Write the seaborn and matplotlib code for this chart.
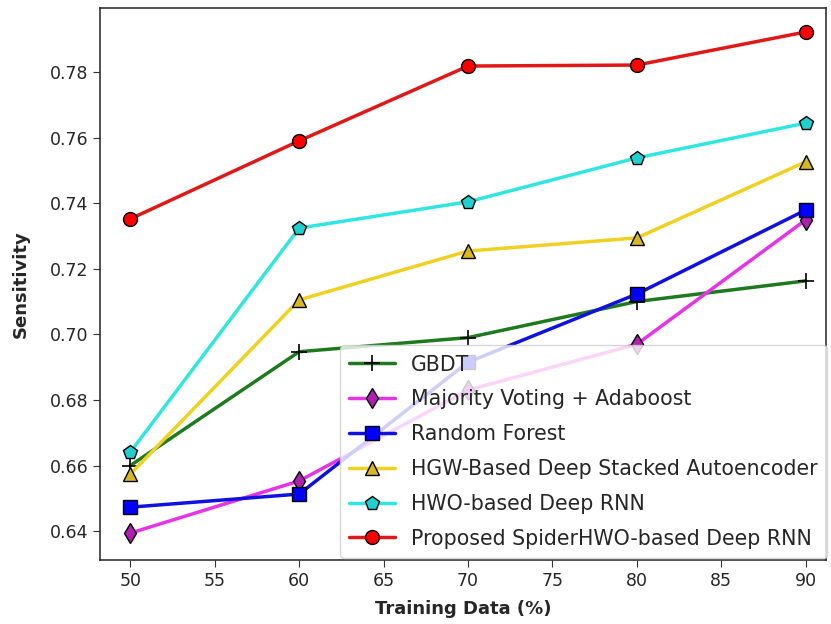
import matplotlib
matplotlib.use("Agg")
import matplotlib.pyplot as plt
import seaborn as sns
import pandas as pd

training = [50, 60, 70, 80, 90]
gbdt = [0.6600, 0.6947, 0.6990, 0.7100, 0.7163]
majority = [0.6394, 0.6553, 0.6830, 0.6970, 0.7349]
random_forest = [0.6473, 0.6513, 0.6915, 0.7123, 0.7379]
hgw = [0.6574, 0.7105, 0.7254, 0.7294, 0.7526]
hwo = [0.6641, 0.7324, 0.7404, 0.7538, 0.7644]
spider = [0.7352, 0.7590, 0.7818, 0.7821, 0.7922]

names = ["GBDT", "Majority Voting + Adaboost", "Random Forest",
         "HGW-Based Deep Stacked Autoencoder", "HWO-based Deep RNN",
         "Proposed SpiderHWO-based Deep RNN"]
series = [gbdt, majority, random_forest, hgw, hwo, spider]
colors = ["#1f7a1f", "#e633e6", "#1010e0", "#f0d020", "#30e6e0", "#e01818"]
face = ["black", "#b020b0", "#0000ff", "#d8b820", "#20d0d0", "#ff0000"]
markers = ["+", "d", "s", "^", "p", "o"]

rows = []
for n, s in zip(names, series):
    for x, y in zip(training, s):
        rows.append({"Training": x, "Sensitivity": y, "Method": n})
df = pd.DataFrame(rows)

sns.set_style("ticks")
plt.rcParams['font.family'] = ['DejaVu Sans']
fig = plt.figure(figsize=(8.31, 6.24), dpi=100)
ax = fig.add_axes([0.1203, 0.1026, 0.8737, 0.8846])

for n, c, fc, m in zip(names, colors, face, markers):
    sub = df[df["Method"] == n]
    sns.lineplot(data=sub, x="Training", y="Sensitivity", ax=ax, color=c,
                 marker=m, markersize=10 if m != "+" else 11,
                 markerfacecolor=fc, markeredgecolor="black",
                 markeredgewidth=1.0 if m != "+" else 1.2,
                 linewidth=2.5, label=n)

ax.set_xlim(48.2, 91.2)
ax.set_ylim(0.6312, 0.7995)
ax.set_xticks([50, 55, 60, 65, 70, 75, 80, 85, 90])
ax.set_yticks([0.64, 0.66, 0.68, 0.70, 0.72, 0.74, 0.76, 0.78])
ax.set_yticklabels(["0.64", "0.66", "0.68", "0.70", "0.72", "0.74", "0.76", "0.78"])
ax.tick_params(labelsize=12.5, length=5, color="#333333")
for sp in ax.spines.values():
    sp.set_visible(True)
    sp.set_color("#333333")
    sp.set_linewidth(1.2)
ax.set_xlabel("Training Data (%)", fontsize=13, fontweight="bold", labelpad=7)
ax.set_ylabel("Sensitivity", fontsize=13, fontweight="bold", labelpad=14)
ax.legend(loc="lower right", bbox_to_anchor=(1.004, 0.0), fontsize=14.8,
          framealpha=0.8, handlelength=2.2, handletextpad=0.8,
          borderaxespad=0.1, labelspacing=0.72, borderpad=0.45)

fig.savefig("out.png", dpi=100)
